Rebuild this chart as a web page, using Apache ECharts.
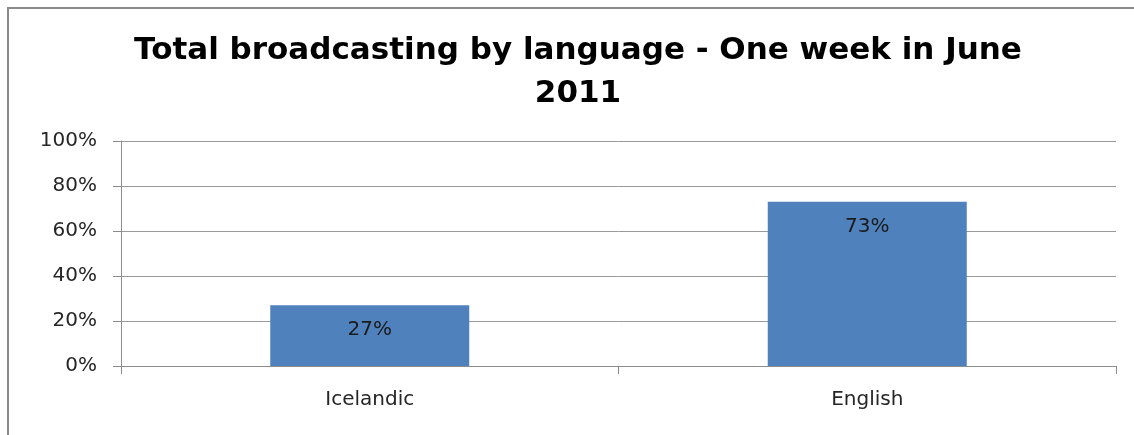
<!DOCTYPE html>
<html>
<head>
<meta charset="utf-8">
<script src="https://cdn.jsdelivr.net/npm/echarts@6/dist/echarts.min.js"></script>
<style>
  html, body { margin: 0; padding: 0; background: #fff; }
  #wrap { position: relative; width: 1134px; height: 435px; }
  #chart { position: absolute; left: 0; top: 0; width: 1134px; height: 435px; }
  #frame { position: absolute; left: 7px; top: 7px; right: 0; bottom: 0;
           border-left: 2px solid #8a8a8a; border-top: 2px solid #8a8a8a; pointer-events: none; }
</style>
</head>
<body>
<div id="wrap">
  <div id="chart"></div>
  <div id="frame"></div>
</div>
<script>
// Share of broadcast time per language
const categories = ['Icelandic', 'English'];
const shares = [0.27, 0.73];
const yTicks = [0, 0.2, 0.4, 0.6, 0.8, 1.0];

const font = 'DejaVu Sans';
const chart = echarts.init(document.getElementById('chart'), null, { renderer: 'canvas' });

chart.setOption({
  animation: false,
  title: {
    text: 'Total broadcasting by language - One week in June\n2011',
    left: 573,
    textAlign: 'center',
    top: 24,
    textStyle: {
      fontFamily: font,
      fontWeight: 'bold',
      fontSize: 31,
      lineHeight: 43,
      color: '#000'
    }
  },
  grid: { left: 121, right: 18, top: 141, bottom: 69, containLabel: false },
  xAxis: {
    type: 'category',
    data: categories,
    axisLine: { lineStyle: { color: '#8c8c8c', width: 1 } },
    axisTick: { show: true, alignWithLabel: false, length: 8, lineStyle: { color: '#8c8c8c' } },
    axisLabel: { fontFamily: font, fontSize: 20, color: '#262626', margin: 24 }
  },
  yAxis: {
    type: 'value',
    min: yTicks[0],
    max: yTicks[yTicks.length - 1],
    interval: yTicks[1] - yTicks[0],
    axisLine: { show: true, lineStyle: { color: '#8c8c8c', width: 1 } },
    axisTick: { show: true, length: 8, lineStyle: { color: '#8c8c8c' } },
    splitLine: { show: true, lineStyle: { color: '#9a9a9a', width: 1 } },
    axisLabel: {
      fontFamily: font, fontSize: 20, color: '#262626', margin: 24,
      formatter: v => Math.round(v * 100) + '%'
    }
  },
  series: [{
    type: 'bar',
    data: shares,
    barWidth: '40%',
    itemStyle: { color: '#4f81bd' },
    label: {
      show: true,
      position: 'insideTop',
      distance: 15,
      fontFamily: font,
      fontSize: 20,
      color: '#1a1a1a',
      formatter: p => Math.round(p.value * 100) + '%'
    }
  }]
});
</script>
</body>
</html>
